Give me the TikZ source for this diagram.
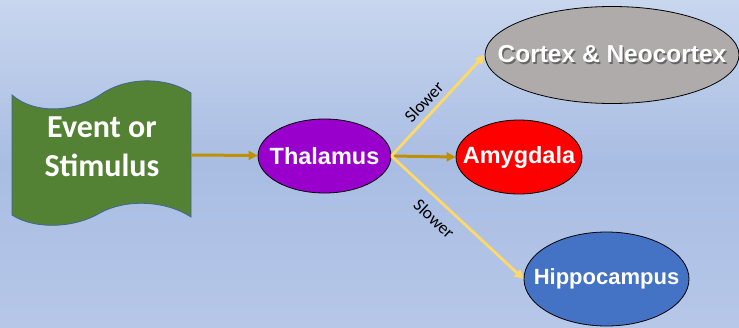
\documentclass[tikz,border=0pt]{standalone}
\usepackage{fontspec}
\setmainfont{Liberation Sans}
\newfontfamily\calibri{Carlito}
\usetikzlibrary{arrows.meta,shapes.geometric}
\definecolor{bgtop}{HTML}{C8D6EE}
\definecolor{bgmid}{HTML}{A9BDE3}
\definecolor{bgbot}{HTML}{B6C7E8}
\definecolor{tapegreen}{HTML}{548235}
\definecolor{tapeedge}{HTML}{3F6597}
\definecolor{gold}{HTML}{BF9000}
\definecolor{paleyellow}{HTML}{FFD966}
\newcommand{\shadowtxt}[1]{\leavevmode\rlap{\hspace{1.5pt}\raisebox{-1.5pt}{\textcolor{black!60}{#1}}}#1}

\begin{document}
\begin{tikzpicture}[x=1pt,y=-1pt,
    region/.style={ellipse, draw=black, line width=0.8pt, inner xsep=-40pt, inner ysep=0pt,
      text=white, font=\fontsize{23.5}{26}\selectfont\bfseries},
    fast/.style={draw=gold, line width=3pt, -{Triangle[length=9pt,width=9pt]}},
    slow/.style={draw=paleyellow, line width=2.8pt, -{Triangle[length=9pt,width=9pt]}},
    slowlbl/.style={font=\calibri\fontsize{17.5}{19}\selectfont, text=black, sloped}]
    \def\wave{(12,95) .. controls (35,115) and (75,112) .. (100,95)
      .. controls (125,77) and (165,76) .. (191,93) -- (191,217)
      .. controls (165,200) and (125,199) .. (100,213)
      .. controls (75,228) and (35,230) .. (12,215) -- cycle}

    \shade[top color=bgtop, bottom color=bgbot, middle color=bgmid] (0,0) rectangle (739,327);
    \useasboundingbox (0,0) rectangle (739,327);

    \filldraw[fill=tapegreen, draw=tapeedge, line width=0.8pt] \wave;
    \node[align=center, text=white, font=\calibri\fontsize{32}{39}\selectfont\bfseries]
      (event) at (102,147) {Event or\\Stimulus};
    \coordinate (eventout) at (191,155);

    \node[region, fill={rgb,255:red,153;green,0;blue,204},
      minimum width=133pt, minimum height=74pt] (thal) at (324.5,156) {Thalamus};
    \node[region, fill=red, minimum width=126pt, minimum height=74pt]
      (amyg) at (519,157) {Amygdala};
    \node[region, fill={rgb,255:red,175;green,171;blue,171}, minimum width=254pt,
      minimum height=97pt, font=\fontsize{24.5}{26}\selectfont\bfseries]
      (cortex) at (612,55) {\shadowtxt{Cortex \& Neocortex}};
    \node[region, fill={rgb,255:red,68;green,114;blue,196}, minimum width=165pt,
      minimum height=94pt, font=\fontsize{22}{24}\selectfont\bfseries]
      (hippo) at (606.5,279) {Hippocampus};

    \draw[fast] (eventout) -- (thal);
    \draw[fast] (thal.east) -- (amyg.west);
    \draw[slow] (thal.east) -- node[slowlbl, above=2pt, pos=0.45] (slowup) {Slower} (cortex.west);
    \draw[slow] (thal.east) -- node[slowlbl, below=6pt, pos=0.41] (slowdown) {Slower} (hippo.west);
  \end{tikzpicture}
\end{document}
